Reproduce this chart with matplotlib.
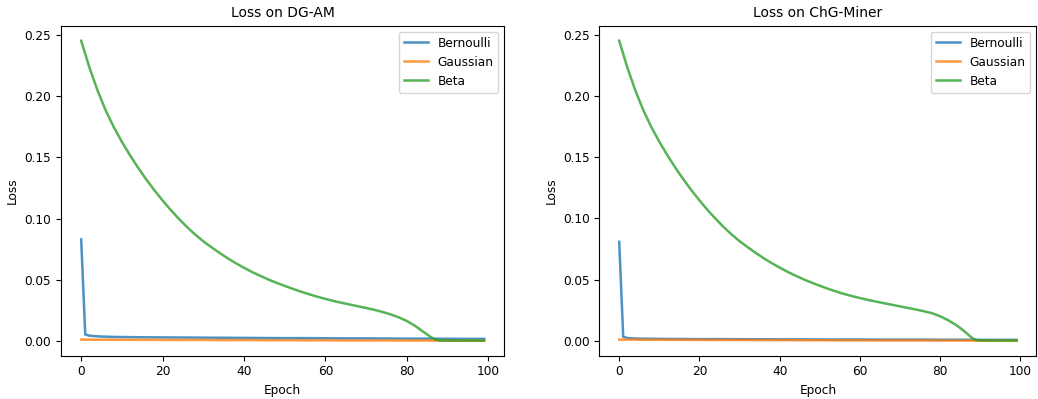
import matplotlib.pyplot as plt

# Эпохи для Bernoulli / Gaussian
epochs = [0, 1, 2, 3, 5, 8, 10, 15, 20, 25, 30, 35, 40, 45, 50, 55, 60, 65, 70,
          75, 80, 82, 84, 85, 86, 87, 88, 89, 90, 95, 99]
# Эпохи для Beta (кривая изогнута, поэтому точек больше)
beta_epochs = [0, 2, 4, 6, 8, 10, 12, 14, 16, 18, 20, 22, 24, 26, 28, 30, 32, 34, 36, 38,
               40, 42, 44, 46, 48, 50, 52, 54, 56, 58, 60, 62, 64, 66, 68, 70, 72, 74, 76, 78,
               80, 82, 84, 85, 86, 87, 88, 89, 90, 92, 94, 96, 98, 99]

# DG-AM
dgam_bernoulli = [0.083, 0.0055, 0.0045, 0.0042, 0.0038, 0.0035, 0.0034, 0.0032, 0.0031, 0.0030,
                  0.0029, 0.0028, 0.0027, 0.0026, 0.0025, 0.0025, 0.0024, 0.0023, 0.0023, 0.0022,
                  0.0021, 0.0021, 0.0021, 0.0021, 0.0020, 0.0020, 0.0020, 0.0020, 0.0020, 0.0019, 0.0019]
dgam_gaussian = [0.0013, 0.0013, 0.0013, 0.0012, 0.0012, 0.0012, 0.0012, 0.0011, 0.0011, 0.0010,
                 0.0010, 0.0009, 0.0009, 0.0008, 0.0008, 0.0007, 0.0007, 0.0006, 0.0006, 0.0006,
                 0.0005, 0.0005, 0.0005, 0.0005, 0.0005, 0.0005, 0.0005, 0.0004, 0.0004, 0.0004, 0.0004]
dgam_beta = [0.2450, 0.2234, 0.2046, 0.1884, 0.1746, 0.1626, 0.1516, 0.1414, 0.1319, 0.1230,
             0.1148, 0.1070, 0.0998, 0.0931, 0.0870, 0.0815, 0.0766, 0.0720, 0.0676, 0.0636,
             0.0599, 0.0564, 0.0533, 0.0503, 0.0476, 0.0451, 0.0427, 0.0404, 0.0383, 0.0363,
             0.0345, 0.0328, 0.0313, 0.0299, 0.0285, 0.0271, 0.0256, 0.0239, 0.0219, 0.0195,
             0.0165, 0.0126, 0.0078, 0.0055, 0.0032, 0.0014, 0.0007, 0.0005, 0.0005, 0.0005,
             0.0005, 0.0005, 0.0005, 0.0005]

# ChG-Miner
chg_bernoulli = [0.081, 0.0035, 0.0025, 0.0022, 0.0020, 0.0019, 0.0018, 0.0017, 0.0016, 0.0016,
                 0.0015, 0.0015, 0.0014, 0.0014, 0.0013, 0.0013, 0.0013, 0.0012, 0.0012, 0.0012,
                 0.0011, 0.0011, 0.0011, 0.0011, 0.0011, 0.0011, 0.0011, 0.0010, 0.0010, 0.0010, 0.0010]
chg_gaussian = [0.0012, 0.0012, 0.0012, 0.0012, 0.0011, 0.0011, 0.0011, 0.0010, 0.0010, 0.0009,
                0.0009, 0.0008, 0.0008, 0.0007, 0.0007, 0.0006, 0.0006, 0.0005, 0.0005, 0.0005,
                0.0004, 0.0004, 0.0004, 0.0004, 0.0004, 0.0004, 0.0004, 0.0003, 0.0003, 0.0003, 0.0003]
chg_beta = [0.2450, 0.2234, 0.2046, 0.1884, 0.1746, 0.1626, 0.1516, 0.1414, 0.1319, 0.1230,
            0.1148, 0.1070, 0.0998, 0.0931, 0.0870, 0.0815, 0.0766, 0.0720, 0.0676, 0.0636,
            0.0599, 0.0564, 0.0533, 0.0503, 0.0476, 0.0451, 0.0427, 0.0405, 0.0385, 0.0367,
            0.0351, 0.0336, 0.0322, 0.0309, 0.0296, 0.0283, 0.0270, 0.0257, 0.0243, 0.0227,
            0.0202, 0.0170, 0.0130, 0.0106, 0.0080, 0.0052, 0.0024, 0.0009, 0.0006, 0.0005,
            0.0005, 0.0005, 0.0005, 0.0005]

datasets = [
    ('Loss on DG-AM', dgam_bernoulli, dgam_gaussian, dgam_beta),
    ('Loss on ChG-Miner', chg_bernoulli, chg_gaussian, chg_beta),
]

plt.rcParams['font.size'] = 8.7

fig = plt.figure(figsize=(10.38, 3.99), dpi=100)
axes = [fig.add_axes([0.0588, 0.1085, 0.427, 0.827]),
        fig.add_axes([0.5774, 0.1085, 0.421, 0.827])]

for ax, (title, bern, gauss, beta) in zip(axes, datasets):
    ax.plot(epochs, bern, label='Bernoulli', color='tab:blue', alpha=0.8, linewidth=1.8)
    ax.plot(epochs, gauss, label='Gaussian', color='tab:orange', alpha=0.8, linewidth=1.8)
    ax.plot(beta_epochs, beta, label='Beta', color='tab:green', alpha=0.8, linewidth=1.8)
    ax.set_title(title, fontsize=10)
    ax.set_xlabel('Epoch')
    ax.set_ylabel('Loss')
    ax.set_xticks([0, 20, 40, 60, 80, 100])
    ax.set_yticks([0.00, 0.05, 0.10, 0.15, 0.20, 0.25])
    ax.legend(loc='upper right')

plt.savefig('out.png', dpi=100)
